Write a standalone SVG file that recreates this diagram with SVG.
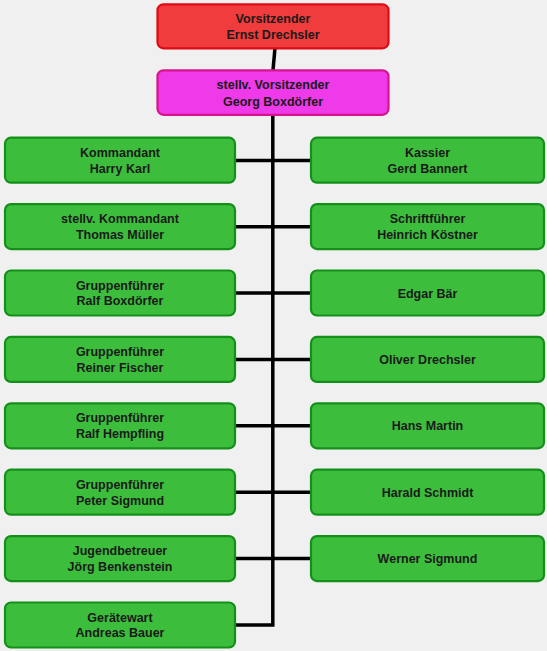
<svg xmlns="http://www.w3.org/2000/svg" width="547" height="651" viewBox="0 0 547 651">
<style>
.bg{fill:#f0f0f0}
.n rect{stroke-width:2.2}
.g rect{fill:#3cbe3c;stroke:#14901a}
.r rect{fill:#f03c3c;stroke:#e00a14}
.m rect{fill:#ee3ae8;stroke:#d8138c}
text{font-family:"Liberation Sans",Arial,sans-serif;font-weight:bold;font-size:12.5px;fill:#1a1a1a;text-anchor:middle}
.c{stroke:#000;stroke-width:3.5;fill:none}
</style>
<rect class="bg" x="0" y="0" width="547" height="651"/>
<g id="connectors">
<path class="c" d="M275,48 L273,70"/>
<path class="c" d="M272.8,115 L272.8,625 L235,625"/>
<path class="c" d="M235,160.5 H311"/>
<path class="c" d="M235,226.8 H311"/>
<path class="c" d="M235,293 H311"/>
<path class="c" d="M235,359.4 H311"/>
<path class="c" d="M235,425.8 H311"/>
<path class="c" d="M235,492.2 H311"/>
<path class="c" d="M235,558.6 H311"/>
</g>
<g id="n-vorsitzender" class="n r"><rect x="157.5" y="4.3" width="231" height="44" rx="6"/><text x="273" y="22.7">Vorsitzender</text><text x="273" y="39.3">Ernst Drechsler</text></g>
<g id="n-stellv-vorsitzender" class="n m"><rect x="157.5" y="70.3" width="231" height="44.5" rx="6"/><text x="273" y="89">stellv. Vorsitzender</text><text x="273" y="105.5">Georg Boxdörfer</text></g>
<g id="n-kommandant" class="n g"><rect x="5" y="137.7" width="230" height="45" rx="6"/><text x="120" y="156.7">Kommandant</text><text x="120" y="172.5">Harry Karl</text></g>
<g id="n-stellv-kommandant" class="n g"><rect x="5" y="204.1" width="230" height="45" rx="6"/><text x="120" y="223.1">stellv. Kommandant</text><text x="120" y="238.9">Thomas Müller</text></g>
<g id="n-gf-boxdoerfer" class="n g"><rect x="5" y="270.5" width="230" height="45" rx="6"/><text x="120" y="289.5">Gruppenführer</text><text x="120" y="305.3">Ralf Boxdörfer</text></g>
<g id="n-gf-fischer" class="n g"><rect x="5" y="336.9" width="230" height="45" rx="6"/><text x="120" y="355.9">Gruppenführer</text><text x="120" y="371.7">Reiner Fischer</text></g>
<g id="n-gf-hempfling" class="n g"><rect x="5" y="403.3" width="230" height="45" rx="6"/><text x="120" y="422.3">Gruppenführer</text><text x="120" y="438.1">Ralf Hempfling</text></g>
<g id="n-gf-sigmund" class="n g"><rect x="5" y="469.7" width="230" height="45" rx="6"/><text x="120" y="488.7">Gruppenführer</text><text x="120" y="504.5">Peter Sigmund</text></g>
<g id="n-jugendbetreuer" class="n g"><rect x="5" y="536.1" width="230" height="45" rx="6"/><text x="120" y="555.1">Jugendbetreuer</text><text x="120" y="570.9">Jörg Benkenstein</text></g>
<g id="n-geraetewart" class="n g"><rect x="5" y="602.5" width="230" height="45" rx="6"/><text x="120" y="621.5">Gerätewart</text><text x="120" y="637.3">Andreas Bauer</text></g>
<g id="n-kassier" class="n g"><rect x="311" y="137.7" width="233" height="45" rx="6"/><text x="427.5" y="156.7">Kassier</text><text x="427.5" y="172.5">Gerd Bannert</text></g>
<g id="n-schriftfuehrer" class="n g"><rect x="311" y="204.1" width="233" height="45" rx="6"/><text x="427.5" y="223.1">Schriftführer</text><text x="427.5" y="238.9">Heinrich Köstner</text></g>
<g id="n-baer" class="n g"><rect x="311" y="270.5" width="233" height="45" rx="6"/><text x="427.5" y="297.5">Edgar Bär</text></g>
<g id="n-drechsler" class="n g"><rect x="311" y="336.9" width="233" height="45" rx="6"/><text x="427.5" y="363.9">Oliver Drechsler</text></g>
<g id="n-martin" class="n g"><rect x="311" y="403.3" width="233" height="45" rx="6"/><text x="427.5" y="430.3">Hans Martin</text></g>
<g id="n-schmidt" class="n g"><rect x="311" y="469.7" width="233" height="45" rx="6"/><text x="427.5" y="496.7">Harald Schmidt</text></g>
<g id="n-w-sigmund" class="n g"><rect x="311" y="536.1" width="233" height="45" rx="6"/><text x="427.5" y="563.1">Werner Sigmund</text></g>
</svg>
